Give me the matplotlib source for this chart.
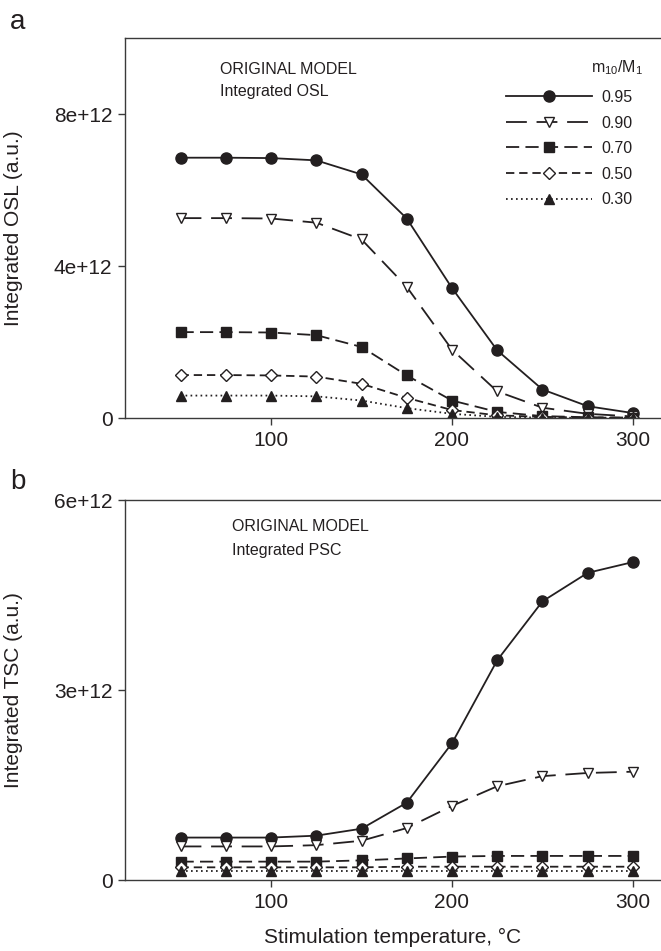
import numpy as np
import matplotlib
matplotlib.use("Agg")
import matplotlib.pyplot as plt

plt.rcParams['font.family'] = ['Liberation Sans', 'DejaVu Sans']
plt.rcParams['mathtext.default'] = 'regular'
plt.rcParams['lines.scale_dashes'] = False

# stimulation temperatures (deg C)
temps = [50, 75, 100, 125, 150, 175, 200, 225, 250, 275, 300]
ratio_labels = ["0.95", "0.90", "0.70", "0.50", "0.30"]

# panel a: integrated OSL (units of 1e12)
osl_095 = [6.85, 6.85, 6.84, 6.78, 6.41, 5.25, 3.42, 1.78, 0.75, 0.31, 0.13]
osl_090 = [5.26, 5.26, 5.25, 5.14, 4.70, 3.45, 1.80, 0.70, 0.27, 0.11, 0.04]
osl_070 = [2.26, 2.26, 2.25, 2.18, 1.87, 1.12, 0.46, 0.16, 0.05, 0.02, 0.01]
osl_050 = [1.13, 1.13, 1.12, 1.09, 0.90, 0.53, 0.21, 0.07, 0.03, 0.01, 0.005]
osl_030 = [0.59, 0.59, 0.59, 0.57, 0.46, 0.26, 0.11, 0.03, 0.01, 0.005, 0.002]

# panel b: integrated TSC (units of 1e12)
tsc_095 = [0.67, 0.67, 0.67, 0.70, 0.81, 1.22, 2.16, 3.47, 4.40, 4.85, 5.02]
tsc_090 = [0.53, 0.53, 0.53, 0.55, 0.62, 0.82, 1.17, 1.48, 1.64, 1.69, 1.71]
tsc_070 = [0.29, 0.29, 0.29, 0.29, 0.31, 0.34, 0.37, 0.38, 0.38, 0.38, 0.38]
tsc_050 = [0.20, 0.20, 0.20, 0.20, 0.20, 0.21, 0.21, 0.21, 0.21, 0.21, 0.21]
tsc_030 = [0.15, 0.15, 0.15, 0.15, 0.15, 0.15, 0.15, 0.15, 0.15, 0.15, 0.15]

ink = '#231f20'
styles = [
    dict(ls='-', marker='o', ms=8, mfc=ink),
    dict(ls=(0, (15, 7)), marker='v', ms=7.5, mfc='white'),
    dict(ls=(0, (9.5, 4.5)), marker='s', ms=6.5, mfc=ink),
    dict(ls=(0, (6, 3.5)), marker='D', ms=6.2, mfc='white'),
    dict(ls=(0, (1.2, 2.4)), marker='^', ms=7.5, mfc=ink),
]

W, H = 661, 951
fig = plt.figure(figsize=(W / 100, H / 100), dpi=100)


def make_axes(top_px, bottom_px):
    return fig.add_axes([125 / W, (H - bottom_px) / H, (W - 125) / W, (bottom_px - top_px) / H])


def style_axes(ax, ymax, yticks, ylabels, ylab):
    ax.set_xlim(19.3, 315.5)
    ax.set_ylim(0, ymax)
    ax.set_xticks([100, 200, 300])
    ax.set_yticks(yticks)
    ax.set_yticklabels(ylabels)
    ax.spines['right'].set_visible(False)
    for s in ['top', 'left', 'bottom']:
        ax.spines[s].set_color('#3a3a3a')
        ax.spines[s].set_linewidth(1.0)
    ax.tick_params(direction='out', length=5, width=1.0, color='#3a3a3a',
                   labelsize=15, labelcolor=ink, pad=4)
    ax.set_ylabel(ylab, fontsize=15, color=ink)
    ax.yaxis.set_label_coords(-0.19, 0.5)


def draw(ax, series):
    handles = []
    for vals, st in zip(series, styles):
        h, = ax.plot(temps, np.array(vals) * 1e12, color=ink, lw=1.3,
                     mec=ink, mew=1.0, **st)
        handles.append(h)
    return handles


# panel a
ax1 = make_axes(38, 418)
handles = draw(ax1, [osl_095, osl_090, osl_070, osl_050, osl_030])
style_axes(ax1, 1e13, [0, 4e12, 8e12], ['0', '4e+12', '8e+12'], 'Integrated OSL (a.u.)')
ax1.text(0.177, 0.916, 'ORIGINAL MODEL', transform=ax1.transAxes, fontsize=11.5,
         color=ink, va='center')
ax1.text(0.177, 0.858, 'Integrated OSL', transform=ax1.transAxes, fontsize=11.5,
         color=ink, va='center')
ax1.text(0.918, 0.922, 'm$_{10}$/M$_1$', transform=ax1.transAxes, fontsize=11.5,
         color=ink, ha='center', va='center')
leg = ax1.legend(handles, ratio_labels, loc='upper right',
                 bbox_to_anchor=(633 / W, 1 - 90 / H), bbox_transform=fig.transFigure,
                 frameon=False, fontsize=11.5, handlelength=5.4, handletextpad=0.6,
                 labelspacing=0.66, borderpad=0, borderaxespad=0)
for t in leg.get_texts():
    t.set_color(ink)

# panel b
ax2 = make_axes(500, 880)
draw(ax2, [tsc_095, tsc_090, tsc_070, tsc_050, tsc_030])
style_axes(ax2, 6e12, [0, 3e12, 6e12], ['0', '3e+12', '6e+12'], 'Integrated TSC (a.u.)')
ax2.text(0.20, 0.929, 'ORIGINAL MODEL', transform=ax2.transAxes, fontsize=11.5,
         color=ink, va='center')
ax2.text(0.20, 0.868, 'Integrated PSC', transform=ax2.transAxes, fontsize=11.5,
         color=ink, va='center')
ax2.set_xlabel('Stimulation temperature, \u00b0C', fontsize=15, color=ink)
ax2.xaxis.set_label_coords(0.5, -0.125)

# panel letters
fig.text(10 / W, 1 - 22 / H, 'a', fontsize=20, color=ink, va='center')
fig.text(10 / W, 1 - 482 / H, 'b', fontsize=20, color=ink, va='center')

fig.savefig('out.png', dpi=100)
